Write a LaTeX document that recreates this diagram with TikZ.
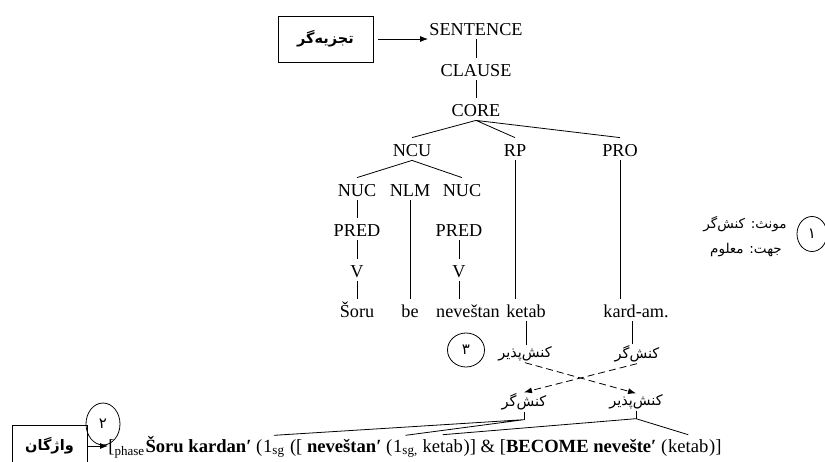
\documentclass[tikz,border=0pt]{standalone}
\usepackage{fontspec}
\setmainfont{Liberation Serif}
\newfontfamily\farsi[Script=Arabic]{DejaVu Sans}
\TeXXeTstate=1
\usetikzlibrary{arrows.meta,shapes.geometric,calc}

\tikzset{
	lbl/.style={font=\fontsize{18.2}{20}\selectfont, text height=17pt, text depth=3pt, inner sep=1pt, anchor=base},
	role/.style={font=\farsi\fontsize{14.5}{16}\selectfont, inner sep=1pt},
	feat/.style={font=\farsi\fontsize{13.5}{15}\selectfont, inner sep=1pt},
	frm/.style={font=\fontsize{18.6}{20}\selectfont, inner sep=0pt, anchor=base west},
	numring/.style={draw, ellipse, inner sep=0pt, font=\farsi\fontsize{15}{16}\selectfont},
	boxed/.style={draw, inner sep=0pt, font=\farsi\bfseries\fontsize{14.5}{16}\selectfont},
	arr/.style={-{Latex[length=8pt,width=6pt]}},
	dasharr/.style={arr, dash pattern=on 7pt off 4pt},
}

\begin{document}
\begin{tikzpicture}[x=1pt,y=-1pt,line width=0.8pt]
	\useasboundingbox (0,0) rectangle (825,461);
	% tree
	\foreach \t/\x/\y/\n in {SENTENCE/476/35/sent,CLAUSE/476/76/clause,CORE/476/116/core,NCU/412/156/ncu,RP/515/156/rp,PRO/620/156/pro,NUC/357/196/nucA,NLM/410/196/nlm,NUC/462/196/nucB,PRED/357/236/predA,PRED/459/236/predB,V/357/277/vA,V/459/277/vB}{
		\node[lbl] (\n) at (\x,\y) {\t};
	}
	\foreach \t/\x/\n in {Šoru/357/soru,be/410/be,neveštan/468/nev,ketab/526/ketab,kard-am./636/kard}{
		\node[lbl] (\n) at (\x,317) {\t};
	}
	\draw (sent) -- (clause) -- (core);
	\draw (core.south) -- (ncu.north) (core.south) -- (rp.north) (core.south) -- (pro.north);
	\draw (ncu.south) -- (nucA.north) (ncu.south) -- (nucB.north);
	\draw (nucA) -- (predA) -- (vA) -- (soru);
	\draw (nlm) -- (be);
	\draw (predB) -- (vB) -- (vB |- nev.north);
	\draw (rp) -- (rp |- ketab.north);
	\draw (pro) -- (pro |- kard.north);

	\node[boxed, minimum width=95pt, minimum height=46pt] (parser) at (325.5,39) {\beginR تجزیه‌گر\endR};
	\draw[arr] (parser.east) ++(5,0) -- (parser.east -| sent.west);

	% features
	\node[numring, minimum width=30pt, minimum height=35pt] (one) at (812,234) {۱};
	\node[feat] (voiceA) at (745,224) {\beginR مونث: کنش‌گر\endR};
	\node[feat] (voiceB) at (746,250) {\beginR جهت: معلوم\endR};

	% macroroles
	\node[role] (upat) at (525,354) {\beginR کنش‌پذیر\endR};
	\node[role] (uact) at (637,354) {\beginR کنش‌گر\endR};
	\node[role] (lact) at (524,402) {\beginR کنش‌گر\endR};
	\node[role] (lpat) at (636,402) {\beginR کنش‌پذیر\endR};
	\node[numring, minimum width=37pt, minimum height=34pt] (three) at (466,350) {۳};
	\draw (upat.north -| ketab.south) -- (ketab.south);
	\draw (uact.north -| 632,0) -- (kard.south -| 632,0);
	\draw[dasharr] (upat.south) -- (lpat.north);
	\draw[dasharr] (uact.south) -- (lact.north);

	% logical structure
	\node[frm] (f0) at (108,452) {[\textsubscript{phase}};
	\node[frm] (f1) at (f0.base east) {\textbf{Šoru kardan′}\ (};
	\node[frm] (sgA) at (f1.base east) {1\textsubscript{sg}};
	\node[frm] (f2) at (sgA.base east) {\ ([\ \textbf{neveštan′}\ (};
	\node[frm] (sgB) at (f2.base east) {1\textsubscript{sg,}};
	\node[frm, xshift=4pt] (ktA) at (sgB.base east) {ketab};
	\node[frm] (f4) at (ktA.base east) {)]\ \&\ [\textbf{BECOME nevešte′}\ (};
	\node[frm] (ktB) at (f4.base east) {ketab};
	\node[frm] (f5) at (ktB.base east) {)]};

	\draw (lact.south) -- ++(0,8) coordinate (afoot);
	\draw (lpat.south) -- ++(0,8) coordinate (pfoot);
	\draw (afoot) -- ($(sgA.north)+(0,-4)$) (afoot) -- ($(sgB.north)+(0,-4)$);
	\draw (pfoot) -- ($(ktA.north)+(0,-4)$) (pfoot) -- ($(ktB.north)+(0,-4)$);

	\node[boxed, minimum width=75pt, minimum height=42pt] (lex) at (49.5,446) {\beginR واژگان\endR};
	\node[numring, minimum width=34pt, minimum height=42pt] (two) at (103,424) {۲};
	\draw[arr] (lex.east) -- (lex.east -| f0.west);
\end{tikzpicture}
\end{document}
